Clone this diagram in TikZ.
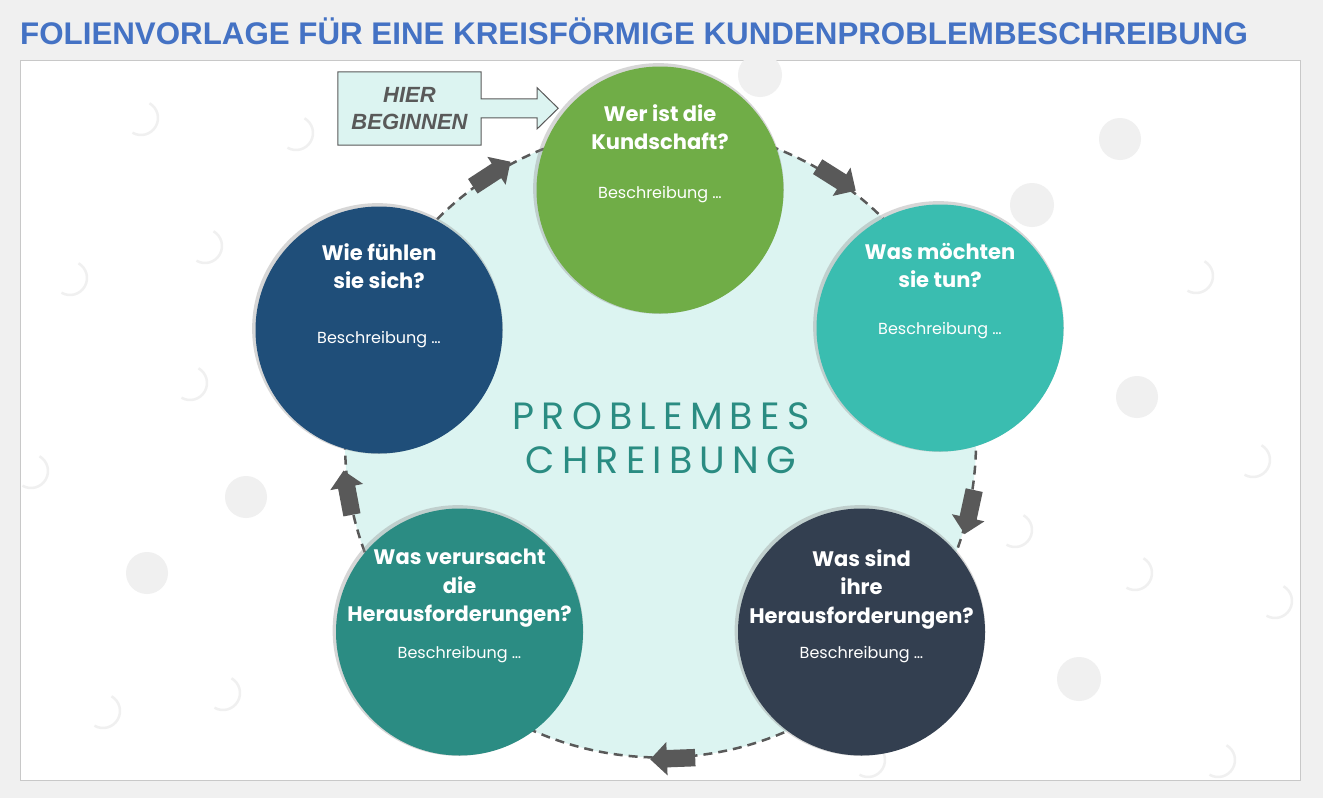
\documentclass[tikz,border=0pt]{standalone}
\usepackage{fontspec}
\setmainfont{Poppins}
\newfontfamily\headfont{Liberation Sans}
\newfontfamily\spacedfont[LetterSpace=19]{Poppins}
\usetikzlibrary{shapes.arrows, calc, shadows}

\definecolor{titleblue}{HTML}{4472C4}
\definecolor{pagegray}{HTML}{F0F0F0}
\definecolor{framegray}{HTML}{C8C8C8}
\definecolor{dotgray}{HTML}{F0F0F0}
\definecolor{ringfill}{HTML}{DCF4F1}
\definecolor{dashgray}{HTML}{595959}
\definecolor{kgreen}{HTML}{70AD47}
\definecolor{kturq}{HTML}{3ABDB0}
\definecolor{knavy}{HTML}{1F4E79}
\definecolor{kslate}{HTML}{333F50}
\definecolor{kteal}{HTML}{2B8C83}
\definecolor{ringtext}{HTML}{2A8C82}

\tikzstyle{stage} = [circle, minimum size=247pt, inner sep=0pt, general shadow={fill=black!45, opacity=.35, shadow scale=1.015, shadow xshift=-1.5pt, shadow yshift=1.5pt}]
\tikzstyle{question} = [anchor=north, inner sep=0pt, align=center, text=white, font=\bfseries\fontsize{21}{28.5}\selectfont]
\tikzstyle{note} = [inner sep=0pt, text=white, font=\fontsize{16}{19}\selectfont]
\tikzstyle{flow} = [single arrow, fill=dashgray, inner sep=8.5pt, minimum height=45pt, minimum width=33pt, single arrow head extend=8pt]
\tikzstyle{bgdot} = [fill=dotgray]
\tikzstyle{bgmoon} = [draw=dotgray, line width=2.5pt]

\begin{document}
\begin{tikzpicture}[x=1pt, y=-1pt]
	\useasboundingbox (0,0) rectangle (1323,798);
	\fill[pagegray] (0,0) rectangle (1323,798);
	\draw[framegray, fill=white] (20,60) rectangle (1300,780);
	% background dots
	\foreach \x/\y/\r in {1120/139/21, 1032/205/22, 1137/397/21, 1079/679/22, 246/497/21, 147/573/21, 760/75/22}
		\fill[bgdot] (\x,\y) circle[radius=\r];
	\foreach \x/\y in {141/118, 296/133, 205/246, 70/278, 190/383, 31/471, 103/711, 223/693, 1253/460, 1015/530, 1135/573, 1275/601, 1218/760, 1196/276, 868/760}
		\draw[bgmoon] (\x,\y) ++(-60:17) arc[start angle=-60, end angle=120, radius=17];

	\node[anchor=base west, inner sep=0pt, text=titleblue, font=\headfont\bfseries\fontsize{31.3}{36}\selectfont] (titel) at (20,44.5) {FOLIENVORLAGE FÜR EINE KREISFÖRMIGE KUNDENPROBLEMBESCHREIBUNG};

	% ring
	\node[circle, minimum size=631pt, fill=ringfill, draw=dashgray, line width=2.5pt, dash pattern=on 9pt off 6pt] (ring) at (660.5,442) {};
	\node[align=center, text=ringtext, font=\spacedfont\fontsize{38}{44}\selectfont] (thema) at (661,438) {PROBLEMBES\\CHREIBUNG};

	% steps
	\node[stage, fill=kgreen] (kunde) at (660,190) {};
	\node[stage, fill=kturq] (ziel) at (940,328) {};
	\node[stage, fill=kslate] (huerden) at (861.5,632) {};
	\node[stage, fill=kteal] (ursache) at (459.5,632) {};
	\node[stage, fill=knavy] (gefuehl) at (379,330) {};

	\node[flow, rotate=-32.2] (f1) at (ring.57.8) {};
	\node[flow, rotate=-102.3] (f2) at (ring.-12.3) {};
	\node[flow, rotate=-177.8] (f3) at (ring.-87.8) {};
	\node[flow, rotate=100.7] (f4) at (ring.190.7) {};
	\node[flow, rotate=33.1] (f5) at (ring.123.1) {};

	\node[question] (kunde-q) at ($(kunde)+(0,-86)$) {Wer ist die\\Kundschaft?};
	\node[note] (kunde-n) at ($(kunde)+(0,5)$) {Beschreibung …};
	\node[question] (ziel-q) at ($(ziel)+(0,-85)$) {Was möchten\\sie tun?};
	\node[note] (ziel-n) at ($(ziel)+(0,3)$) {Beschreibung …};
	\node[question] (huerden-q) at ($(huerden)+(0,-83)$) {Was sind\\ihre\\Herausforderungen?};
	\node[note] (huerden-n) at ($(huerden)+(0,23)$) {Beschreibung …};
	\node[question] (ursache-q) at ($(ursache)+(0,-83)$) {Was verursacht\\die\\Herausforderungen?};
	\node[note] (ursache-n) at ($(ursache)+(0,23)$) {Beschreibung …};
	\node[question] (gefuehl-q) at ($(gefuehl)+(0,-87)$) {Wie fühlen\\sie sich?};
	\node[note] (gefuehl-n) at ($(gefuehl)+(0,10)$) {Beschreibung …};

	% start marker
	\node[minimum width=143pt, minimum height=73pt, inner sep=0pt] (start) at (409.5,108.5) {};
	\draw[dashgray, fill=ringfill, line width=1pt] (start.north west) -- (start.north east) -- ++(0,27) -- ++(56,0) -- ++(0,-11) -- ++(21,20.5) -- ++(-21,20.5) -- ++(0,-11) -- ++(-56,0) |- (start.south west) -- cycle;
	\node[align=center, text=dashgray, font=\headfont\bfseries\itshape\fontsize{22}{27}\selectfont] (start-t) at (start) {HIER\\BEGINNEN};
\end{tikzpicture}
\end{document}
